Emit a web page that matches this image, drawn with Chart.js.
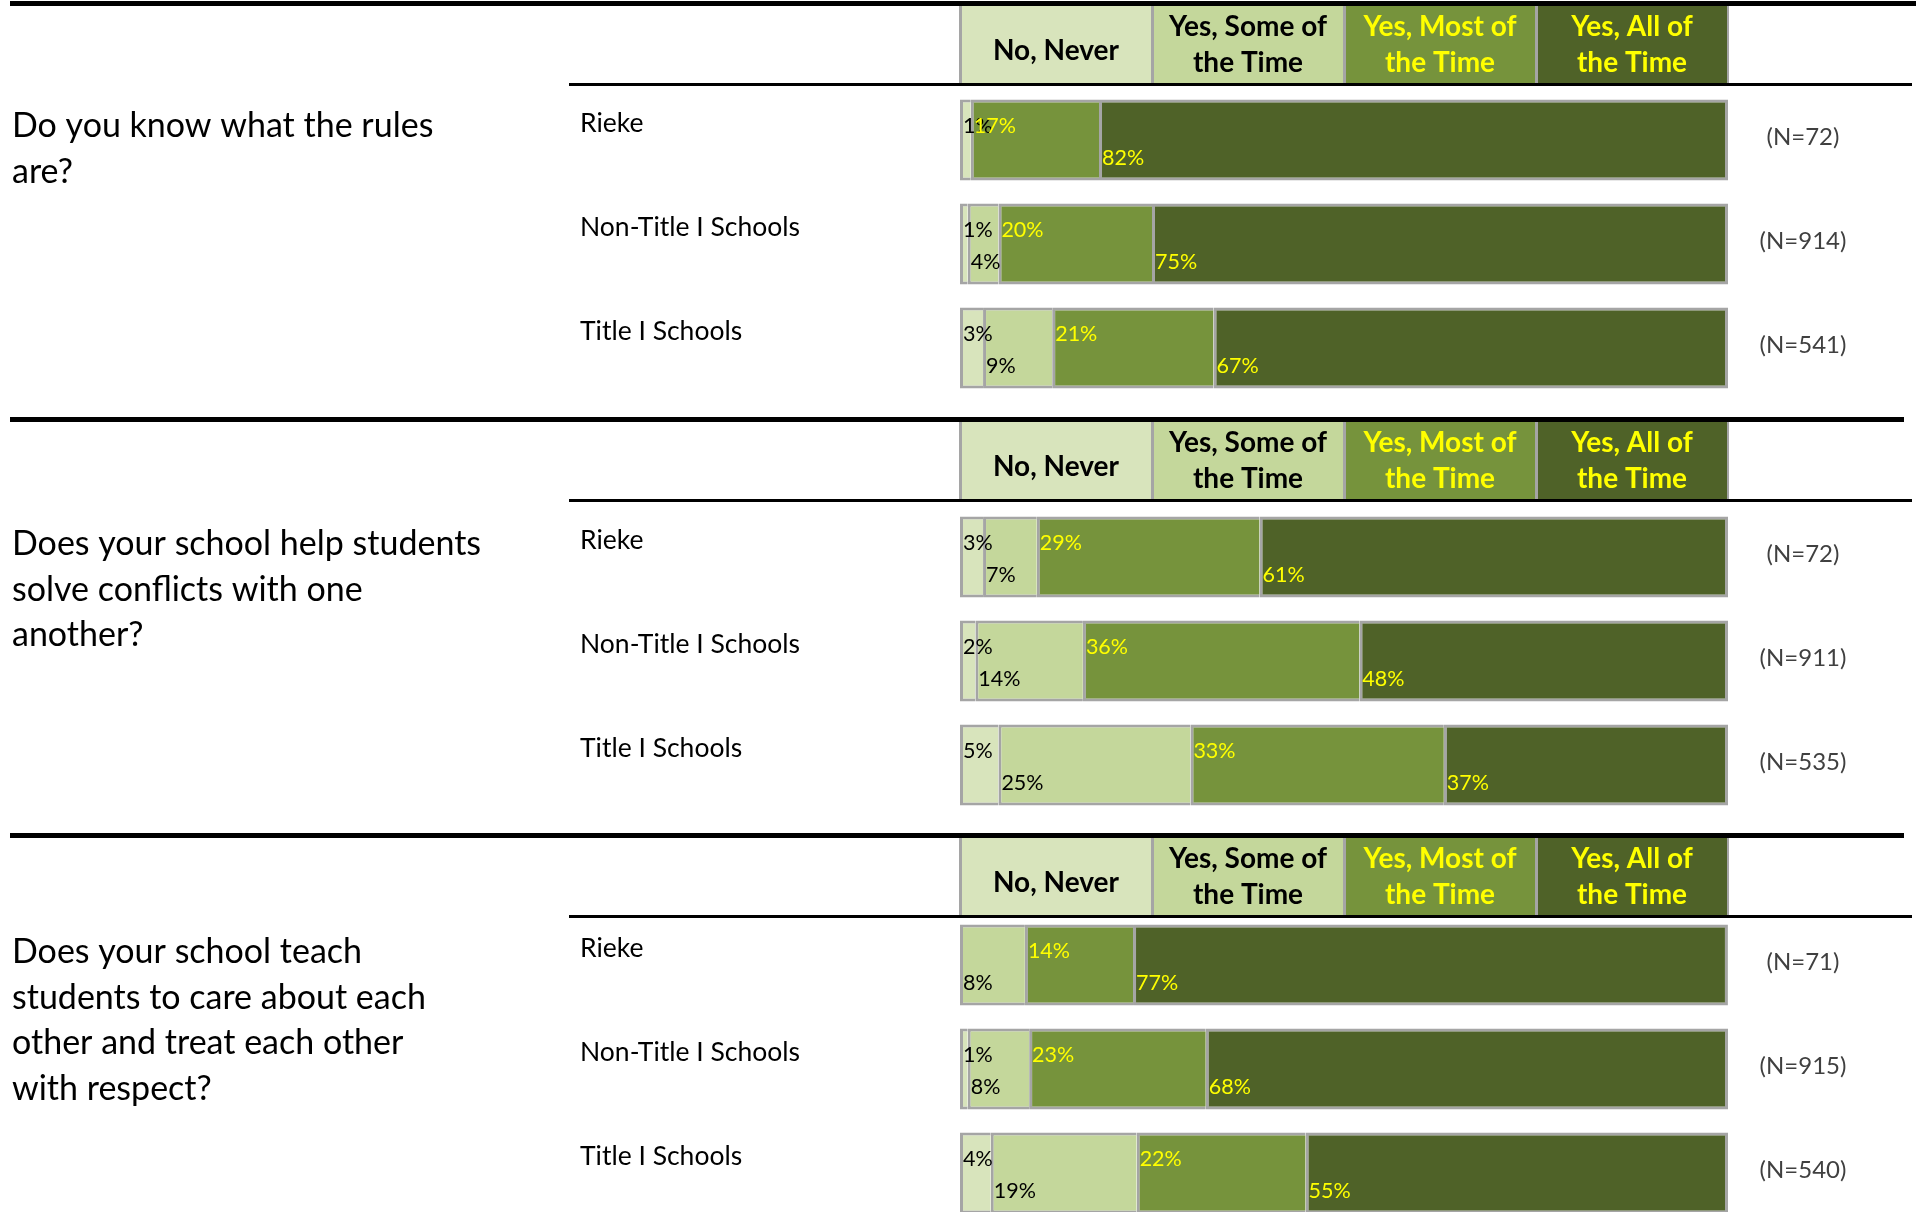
<!DOCTYPE html>
<html>
<head>
<meta charset="utf-8">
<script src="https://cdn.jsdelivr.net/npm/chart.js@4.4.0/dist/chart.umd.min.js"></script>
<style>
    html, body { margin: 0; padding: 0; background: #fff; overflow: hidden; width: 1916px; height: 1212px; }
    .panel { position: absolute; left: 0; width: 1916px; height: 417px; }
</style>
</head>
<body>
<div class="panel" style="top:0px"><canvas id="q0"></canvas></div>
<div class="panel" style="top:416px"><canvas id="q1"></canvas></div>
<div class="panel" style="top:832px"><canvas id="q2"></canvas></div>
<script>
// Data
const categories = ["Rieke", "Non-Title I Schools", "Title I Schools"];
const responses = ["No, Never", "Yes, Some of the Time", "Yes, Most of the Time", "Yes, All of the Time"];
const headerLines = [["No, Never"], ["Yes, Some of", "the Time"], ["Yes, Most of", "the Time"], ["Yes, All of", "the Time"]];
const questionLines = [
    ["Do you know what the rules", "are?"],
    ["Does your school help students", "solve conflicts with one", "another?"],
    ["Does your school teach", "students to care about each", "other and treat each other", "with respect?"]
];
// one row per question, one value per school group (percent, labels are rounded)
const noNever = [[1.4, 1, 3], [3, 2, 5], [0, 1, 4]];
const someTime = [[0, 4, 9], [7, 14, 25], [8.45, 8, 19]];
const mostTime = [[16.7, 20, 21], [29, 36, 33], [14.08, 23, 22]];
const allTime = [[81.9, 75, 67], [61, 48, 37], [77.46, 68, 55]];
const sampleN = [[72, 914, 541], [72, 911, 535], [71, 915, 540]];

const fills = ["#d8e4bc", "#c4d79b", "#76933c", "#4f6228"];
const labelColors = ["#000000", "#000000", "#ffff00", "#ffff00"];
const questionTop = [126, 128, 120];
const barPadTop = [88, 89, 81];
const FONT = "Lato, 'Open Sans', sans-serif";

function makePanel(q) {
    const series = [noNever[q], someTime[q], mostTime[q], allTime[q]];

    const overlay = {
        id: "overlay",
        beforeDatasetsDraw(chart) {
            const c = chart.ctx;
            const xs = chart.scales.x;
            const ys = chart.scales.y;
            c.save();

            // thick rule on top of the panel
            c.fillStyle = "#000";
            c.fillRect(10, 1, q === 0 ? 1906 : 1894, 5);

            // header cells
            for (let i = 0; i < 4; i++) {
                const x0 = xs.getPixelForValue(i * 25);
                const x1 = xs.getPixelForValue((i + 1) * 25);
                c.fillStyle = "#a5a5a5";
                c.fillRect(x0 - 1, 6, x1 - x0 + 2, 78);
                c.fillStyle = fills[i];
                c.fillRect(x0 + 2, 6, x1 - x0 - 3, 78);
                c.fillStyle = labelColors[i];
                c.font = "bold 28px " + FONT;
                c.textAlign = "center";
                c.textBaseline = "middle";
                const lines = headerLines[i];
                const ys0 = lines.length === 1 ? [51] : [27, 63];
                lines.forEach((t, k) => c.fillText(t, (x0 + x1) / 2, ys0[k]));
            }

            // rule under header
            c.fillStyle = "#000";
            c.fillRect(569, 83, 1343, 3);

            // question text
            c.fillStyle = "#000";
            c.font = "34px " + FONT;
            c.textAlign = "left";
            c.textBaseline = "middle";
            questionLines[q].forEach((t, k) => c.fillText(t, 12, questionTop[q] + k * 45.7));

            // row labels and N
            const meta = chart.getDatasetMeta(0);
            categories.forEach((name, i) => {
                const yc = ys.getPixelForValue(i);
                const h = meta.data[i].height;
                c.fillStyle = "#000";
                c.font = "26.5px " + FONT;
                c.textAlign = "left";
                c.fillText(name, 580, yc - h / 2 + 24);
                c.fillStyle = "#404040";
                c.font = "24px " + FONT;
                c.textAlign = "center";
                c.fillText("(N=" + sampleN[q][i] + ")", 1803, yc - 3);
            });
            c.restore();
        },
        afterDatasetsDraw(chart) {
            const c = chart.ctx;
            c.save();
            c.font = "21.5px " + FONT;
            c.textAlign = "left";
            c.textBaseline = "middle";
            chart.data.datasets.forEach((ds, d) => {
                const meta = chart.getDatasetMeta(d);
                meta.data.forEach((el, i) => {
                    const v = ds.data[i];
                    if (!v) return;
                    const left = Math.min(el.x, el.base);
                    const top = el.y - el.height / 2;
                    const y = d % 2 === 0 ? top + 27 : top + 59;
                    c.fillStyle = labelColors[d];
                    c.fillText(Math.round(v) + "%", left + 3, y);
                });
            });
            c.restore();
        }
    };

    new Chart(document.getElementById("q" + q), {
        type: "bar",
        data: {
            labels: categories,
            datasets: series.map((vals, d) => ({
                label: responses[d],
                data: vals,
                backgroundColor: fills[d],
                borderColor: "#a5a5a5",
                borderWidth: { top: 3, bottom: 3, left: 3, right: d === 3 ? 3 : 0 },
                borderSkipped: false,
                categoryPercentage: 1,
                barPercentage: 0.78,
            })),
        },
        options: {
            indexAxis: "y",
            responsive: true,
            maintainAspectRatio: false,
            animation: false,
            layout: { padding: { left: 960, right: 188, top: barPadTop[q], bottom: 105 - barPadTop[q] } },
            scales: {
                x: { stacked: true, min: 0, max: 100, display: false },
                y: { stacked: true, display: false },
            },
            plugins: {
                legend: { display: false },
                tooltip: { enabled: false },
            },
        },
        plugins: [overlay],
    });
}

[0, 1, 2].forEach(makePanel);
</script>
</body>
</html>
